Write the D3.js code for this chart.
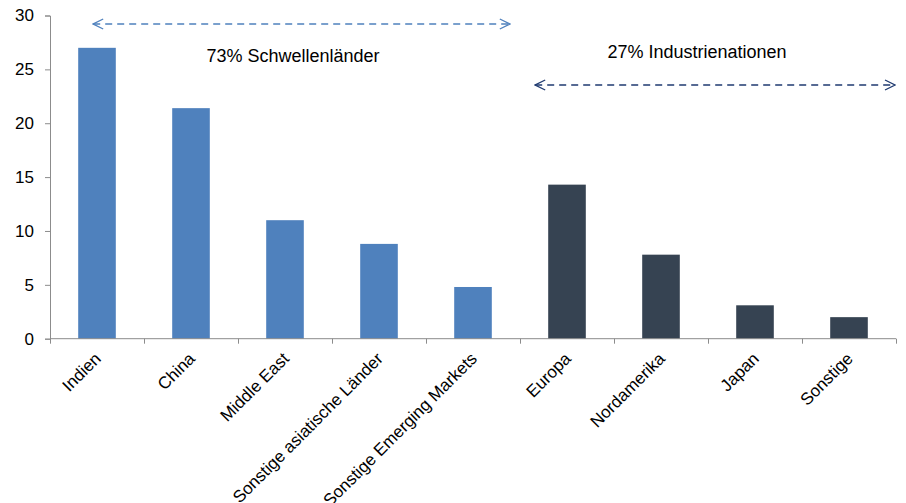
<!DOCTYPE html>
<html><head><meta charset="utf-8">
<script src="https://cdn.jsdelivr.net/npm/d3@7"></script>
<style>body{margin:0;background:#fff}svg{font-family:"Liberation Sans",Arial,sans-serif}</style>
</head><body><svg id="c" width="906" height="503"></svg>
<script>
const categories = ["Indien","China","Middle East","Sonstige asiatische Länder","Sonstige Emerging Markets","Europa","Nordamerika","Japan","Sonstige"];
const values = [27, 21.4, 11, 8.8, 4.8, 14.3, 7.8, 3.1, 2.0];
const groups = ["em","em","em","em","em","dev","dev","dev","dev"];
const yTicks = [0,5,10,15,20,25,30];
const annotations = [
  {text:"73% Schwellenländer", from:"Indien", to:"Sonstige Emerging Markets", group:"em"},
  {text:"27% Industrienationen", from:"Europa", to:"Sonstige", group:"dev"}
];

const svg = d3.select("#c");
const x = d3.scaleBand().domain(categories).range([50,896]).paddingInner(0.6).paddingOuter(0.3);
const y = d3.scaleLinear().domain([0,30]).range([338.7,15.5]);
const color = {em:"#4F81BD", dev:"#364352"};
const arrowColor = {em:"#4F81BD", dev:"#1F3A70"};

// bars
svg.selectAll("rect.bar").data(categories).enter().append("rect")
  .attr("x", d=>x(d)).attr("width", x.bandwidth())
  .attr("y", (d,i)=>y(values[i])).attr("height",(d,i)=>y(0)-y(values[i]))
  .attr("fill",(d,i)=>color[groups[i]]);

// y axis
const yAxis = svg.append("g").attr("transform","translate(50,0)")
  .call(d3.axisLeft(y).tickValues(yTicks).tickSize(5).tickPadding(11));
yAxis.select(".domain").attr("stroke","#8c8c8c");
yAxis.selectAll(".tick line").attr("stroke","#8c8c8c");
yAxis.selectAll("text").attr("font-size","17px").attr("fill","#000").attr("font-family","Liberation Sans, Arial, sans-serif");

// x axis
const xb = d3.scaleLinear().domain([0,categories.length]).range([50,896]);
const xAxis = svg.append("g").attr("transform",`translate(0,${y(0)})`)
  .call(d3.axisBottom(xb).tickValues(d3.range(0,categories.length+1)).tickSize(5).tickFormat(""));
xAxis.select(".domain").attr("stroke","#8c8c8c").attr("d",`M50,0H896`);
xAxis.selectAll(".tick line").attr("stroke","#8c8c8c");

// category labels
svg.selectAll("text.cat").data(categories).enter().append("text")
  .attr("class","cat")
  .attr("transform",d=>`translate(${x(d)+x.bandwidth()/2+5},${y(0)+21}) rotate(-45)`)
  .attr("text-anchor","end").attr("font-size","17px").attr("fill","#000")
  .text(d=>d);

// arrows
const defs = svg.append("defs");
Object.keys(arrowColor).forEach(k=>{
  ["s","e"].forEach(side=>{
    defs.append("marker").attr("id",`m-${k}-${side}`).attr("viewBox","0 0 12 12")
      .attr("refX", side==="e"?11:1).attr("refY",6).attr("markerWidth",12).attr("markerHeight",12)
      .attr("markerUnits","userSpaceOnUse").attr("orient","auto")
      .append("path").attr("d", side==="e"?"M1,1L11,6L1,11":"M11,1L1,6L11,11")
      .attr("fill","none").attr("stroke",arrowColor[k]).attr("stroke-width",1.3);
  });
});
const layout = {
  em:{dx1:15, dx2:18, y:24, tx:293, ty:62},
  dev:{dx1:-13, dx2:0, y:85, tx:697, ty:58}
};
annotations.forEach(a=>{
  const L = layout[a.group];
  const x1 = x(a.from)+L.dx1;
  const x2 = a.group==="em" ? x(a.to)+x.bandwidth()+L.dx2 : 895;
  svg.append("line").attr("x1",x1).attr("x2",x2).attr("y1",L.y).attr("y2",L.y)
    .attr("stroke",arrowColor[a.group]).attr("stroke-width",1.3).attr("stroke-dasharray","7,5")
    .attr("marker-start",`url(#m-${a.group}-s)`).attr("marker-end",`url(#m-${a.group}-e)`);
  svg.append("text").attr("x",L.tx).attr("y",L.ty).attr("text-anchor","middle")
    .attr("font-size","18px").attr("fill","#000").text(a.text);
});
</script></body></html>
